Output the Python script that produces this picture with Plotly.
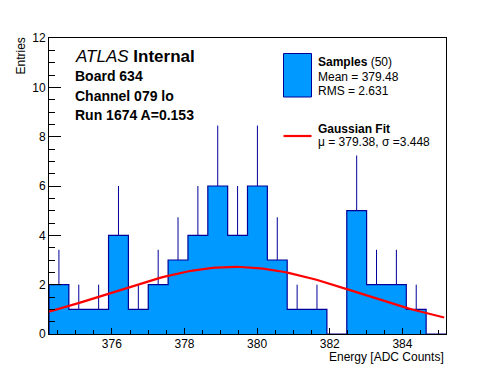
import numpy as np
import plotly.graph_objects as go

# ---- data ----
bin_low = 374.27
bin_high = 385.20
counts = [2, 1, 1, 4, 1, 2, 3, 4, 6, 4, 6, 3, 1, 1, 0, 5, 2, 2, 1, 0]
fit_mu = 379.38
fit_sigma = 3.448
fit_amp = 2.72
x_ticks = [376, 378, 380, 382, 384]
y_ticks = [0, 2, 4, 6, 8, 10, 12]

nb = len(counts)
edges = np.linspace(bin_low, bin_high, nb + 1)
width = edges[1] - edges[0]
centers = (edges[:-1] + edges[1:]) / 2
counts_arr = np.array(counts, dtype=float)
errs = np.sqrt(counts_arr)

FILL = "rgb(0,153,255)"
EDGE = "rgb(0,0,153)"
FONT = "Liberation Sans, Arial, Helvetica, sans-serif"

# page has an 8px body margin: figure occupies 8..496 x 8..372 of the window
OFF = 8
W, H = 496 - 2 * OFF, 372 - 2 * OFF
# plot-area edges in window pixels
L, R, T, B = 49, 446, 38, 334

def px(x):
    return (x - L) / (R - L)

def py(y):
    return (B - y) / (B - T)

fig = go.Figure()

# error bars (upper half)
ex, ey = [], []
for c, n, e in zip(centers, counts_arr, errs):
    if n > 0:
        ex += [c, c, None]
        ey += [n, n + e, None]
fig.add_trace(go.Scatter(x=ex, y=ey, mode="lines",
                         line=dict(color=EDGE, width=1), hoverinfo="skip"))

# filled bars
fig.add_trace(go.Bar(x=centers, y=counts_arr, width=width,
                     marker=dict(color=FILL, line=dict(width=0))))

# step outline
sx = [edges[0]] + list(edges[:-1]) + [edges[-1]]
sy = [0] + list(counts_arr) + [counts_arr[-1]]
fig.add_trace(go.Scatter(x=sx, y=sy, mode="lines", line_shape="hv",
                         line=dict(color=EDGE, width=1.2), hoverinfo="skip"))

# gaussian fit
gx = np.linspace(bin_low, bin_high - 0.05, 100)
gy = fit_amp * np.exp(-0.5 * ((gx - fit_mu) / fit_sigma) ** 2)
fig.add_trace(go.Scatter(x=gx, y=gy, mode="lines",
                         line=dict(color="rgb(255,0,0)", width=2.2), hoverinfo="skip"))

ann = []
def text(x, y, s, size, anchor="left"):
    ann.append(dict(x=px(x), y=py(y), xref="paper", yref="paper", text=s,
                    showarrow=False, xanchor=anchor, yanchor="middle",
                    font=dict(family=FONT, size=size, color="black")))

text(73, 57, "<i>ATLAS</i> <b>Internal</b>", 17)
text(73, 76, "<b>Board 634</b>", 14)
text(73, 96, "<b>Channel 079 lo</b>", 14)
text(73, 114.5, "<b>Run 1674 A=0.153</b>", 14)

text(316, 61.5, "<b>Samples</b> (50)", 12)
text(316, 77, "Mean = 379.48", 12)
text(316, 90.5, "RMS = 2.631", 12)
text(316, 129, "<b>Gaussian Fit</b>", 12)
text(316, 142, "μ = 379.38, σ =3.448", 12)

# axis titles
ann.append(dict(x=px(446), y=py(357), xref="paper", yref="paper",
                text="Energy [ADC Counts]", showarrow=False, xanchor="right",
                yanchor="middle", font=dict(family=FONT, size=12, color="black")))
ann.append(dict(x=px(21), y=py(36), xref="paper", yref="paper",
                text="Entries", showarrow=False, xanchor="center", yanchor="top",
                textangle=-90, font=dict(family=FONT, size=12, color="black")))

shapes = [
    dict(type="rect", xref="paper", yref="paper", x0=px(283.5), x1=px(311.5),
         y0=py(97), y1=py(53.5), fillcolor=FILL, line=dict(color=EDGE, width=1)),
    dict(type="line", xref="paper", yref="paper", x0=px(283.5), x1=px(311.5),
         y0=py(136), y1=py(136), line=dict(color="rgb(255,0,0)", width=2.2)),
]

fig.update_layout(
    width=W, height=H,
    margin=dict(l=L - OFF, r=(W + OFF) - R, t=T - OFF, b=(H + OFF) - B, pad=0),
    paper_bgcolor="white", plot_bgcolor="white",
    showlegend=False, bargap=0,
    annotations=ann, shapes=shapes,
    font=dict(family=FONT, size=12, color="black"),
)
fig.update_xaxes(range=[bin_low, bin_high], tickvals=x_ticks,
                 ticks="inside", ticklen=6, tickcolor="black", tickwidth=1,
                 minor=dict(dtick=0.5, ticks="inside", ticklen=4, tickcolor="black", tickwidth=1, showgrid=False),
                 showline=True, mirror=True, linecolor="black", linewidth=1,
                 showgrid=False, zeroline=False, ticklabelstandoff=-1,
                 tickfont=dict(family=FONT, size=12, color="black"))
fig.update_yaxes(range=[0, 12], tickvals=y_ticks,
                 ticks="inside", ticklen=12, tickcolor="black", tickwidth=1,
                 minor=dict(dtick=0.5, ticks="inside", ticklen=6, tickcolor="black", tickwidth=1, showgrid=False),
                 showline=True, mirror=True, linecolor="black", linewidth=1,
                 showgrid=False, zeroline=False, ticklabelstandoff=0,
                 tickfont=dict(family=FONT, size=12, color="black"))

fig.write_html("out.html")
